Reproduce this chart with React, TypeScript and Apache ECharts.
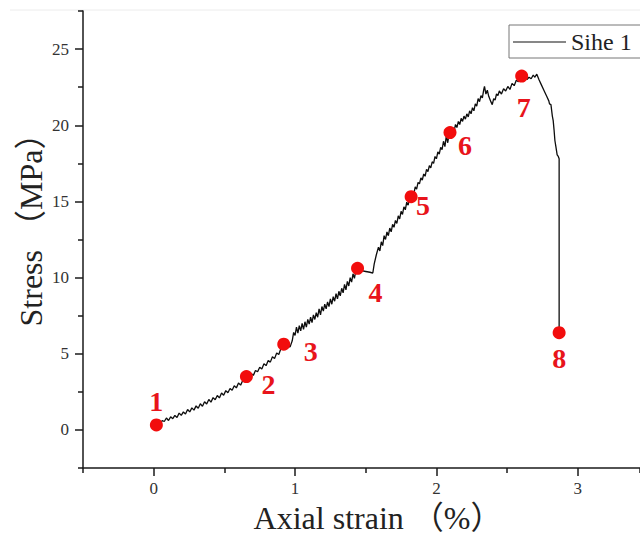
import React, { useEffect, useRef } from "react";
import * as echarts from "echarts";

// Stress-strain curve (Sihe 1)
const strain: number[] = [
  0.030, 0.040, 0.050, 0.060, 0.075, 0.090, 0.105, 0.120, 0.135, 0.150,
  0.165, 0.180, 0.195, 0.210, 0.225, 0.240, 0.255, 0.270, 0.285, 0.300,
  0.315, 0.330, 0.345, 0.360, 0.375, 0.390, 0.405, 0.420, 0.435, 0.450,
  0.465, 0.480, 0.495, 0.510, 0.525, 0.540, 0.555, 0.570, 0.585, 0.600,
  0.615, 0.630, 0.645, 0.660, 0.675, 0.690, 0.705, 0.720, 0.735, 0.750,
  0.765, 0.780, 0.795, 0.810, 0.825, 0.840, 0.855, 0.870, 0.885, 0.900,
  0.915, 0.925, 0.940, 0.965, 0.980, 0.990, 1.000,
  1.010, 1.020, 1.030, 1.040, 1.050, 1.060, 1.070, 1.080, 1.090, 1.100,
  1.110, 1.120, 1.130, 1.140, 1.150, 1.160, 1.170, 1.180, 1.190, 1.200,
  1.210, 1.220, 1.230, 1.240, 1.250, 1.260, 1.270, 1.280, 1.290, 1.300,
  1.310, 1.320, 1.330, 1.340, 1.350, 1.360, 1.370, 1.380, 1.390, 1.400,
  1.410, 1.420, 1.430, 1.440, 1.470, 1.500, 1.530, 1.550, 1.560, 1.575,
  1.590, 1.600, 1.610, 1.620, 1.630, 1.640, 1.650, 1.660, 1.670, 1.680,
  1.690, 1.700, 1.710, 1.720, 1.730, 1.740, 1.750, 1.760, 1.770, 1.780,
  1.790, 1.800, 1.810, 1.820, 1.830, 1.840, 1.850, 1.860, 1.870, 1.880,
  1.890, 1.900, 1.910, 1.920, 1.930, 1.940, 1.950, 1.960, 1.970, 1.980,
  1.990, 2.000, 2.010, 2.020, 2.030, 2.040, 2.050, 2.060, 2.070, 2.080,
  2.090, 2.100, 2.115, 2.125, 2.135, 2.145, 2.155, 2.165, 2.175, 2.185,
  2.195, 2.205, 2.215, 2.225, 2.235, 2.245, 2.255, 2.265, 2.275, 2.285,
  2.295, 2.305, 2.315, 2.325, 2.335, 2.340, 2.350, 2.360, 2.370, 2.385,
  2.395, 2.405, 2.415, 2.425, 2.435, 2.445, 2.460, 2.475, 2.490, 2.505,
  2.520, 2.535, 2.550, 2.565, 2.580, 2.595, 2.610, 2.625, 2.640, 2.655,
  2.670, 2.685, 2.695, 2.710, 2.725, 2.740, 2.760, 2.780, 2.795, 2.800,
  2.810, 2.820, 2.826, 2.832, 2.838, 2.845, 2.854, 2.862, 2.868, 2.868,
];

const stress: number[] = [
  0.40, 0.55, 0.42, 0.62, 0.55, 0.78, 0.62, 0.86, 0.74, 0.95,
  0.82, 1.10, 0.96, 1.18, 1.05, 1.34, 1.18, 1.45, 1.30, 1.58,
  1.42, 1.72, 1.55, 1.85, 1.70, 2.00, 1.82, 2.12, 1.98, 2.26,
  2.10, 2.42, 2.28, 2.58, 2.44, 2.72, 2.60, 2.90, 2.76, 3.08,
  2.94, 3.25, 3.18, 3.48, 3.42, 3.70, 3.58, 3.90, 3.82, 4.12,
  4.00, 4.34, 4.22, 4.56, 4.45, 4.80, 4.68, 5.05, 4.95, 5.35,
  5.30, 5.62, 5.50, 5.45, 5.85, 6.40, 6.20,
  6.75, 6.35, 6.85, 6.50, 7.00, 6.60, 7.10, 6.75, 7.25, 6.95,
  7.40, 7.05, 7.55, 7.25, 7.70, 7.40, 7.95, 7.55, 8.10, 7.80,
  8.25, 7.95, 8.40, 8.10, 8.60, 8.25, 8.75, 8.45, 8.95, 8.60,
  9.10, 8.80, 9.30, 9.00, 9.55, 9.20, 9.75, 9.45, 10.00, 9.70,
  10.25, 9.95, 10.45, 10.60, 10.45, 10.40, 10.35, 10.30, 10.90, 11.50,
  12.00, 11.75, 12.35, 12.10, 12.75, 12.50, 13.00, 12.75, 13.25, 13.00,
  13.50, 13.30, 13.75, 13.55, 14.05, 13.85, 14.35, 14.15, 14.65, 14.45,
  14.95, 14.75, 15.25, 15.20, 15.60, 15.50, 15.95, 15.80, 16.25, 16.15,
  16.55, 16.40, 16.80, 16.65, 17.10, 16.95, 17.35, 17.20, 17.60, 17.50,
  17.95, 17.80, 18.25, 18.10, 18.55, 18.40, 18.95, 18.60, 19.30, 18.85,
  19.45, 19.40, 19.85, 19.60, 20.05, 19.85, 20.25, 20.05, 20.45, 20.25,
  20.60, 20.40, 20.75, 20.55, 20.95, 20.75, 21.15, 20.95, 21.40, 21.25,
  21.75, 21.55, 21.95, 21.80, 22.35, 22.55, 22.05, 22.30, 21.90, 21.55,
  21.35, 21.75, 21.65, 22.05, 21.95, 22.25, 22.05, 22.40, 22.25, 22.55,
  22.35, 22.75, 22.60, 22.95, 22.85, 23.15, 23.05, 23.20, 23.00, 23.15,
  23.05, 23.30, 23.15, 23.35, 23.00, 22.70, 22.30, 21.90, 21.60, 21.40,
  21.35, 20.60, 20.30, 19.70, 19.00, 18.60, 18.05, 17.95, 17.80, 6.40,
];

// Numbered red marker points
const markerStrain: number[] = [0.019, 0.656, 0.92, 1.442, 1.821, 2.096, 2.603, 2.868];
const markerStress: number[] = [0.33, 3.5, 5.63, 10.61, 15.31, 19.52, 23.23, 6.38];
const markerLabels: string[] = ["1", "2", "3", "4", "5", "6", "7", "8"];

const seriesName = "Sihe 1";
const xAxisTitle = "Axial strain （%）";
const yAxisTitle = "Stress （MPa）";

const SERIF = "'Liberation Serif', 'Times New Roman', 'Noto Sans CJK SC', serif";

export default function App() {
  const ref = useRef<HTMLDivElement>(null);

  useEffect(() => {
    if (!ref.current) return;
    const chart = echarts.init(ref.current, null, { renderer: "svg" });

    const axisColor = "#1a1a1a";
    const labelOffsets: number[][] = [
      [0, -23], [22, 8], [27, 7], [18, 24], [12, 9], [15, 13], [2, 31], [0, 26],
    ];

    const curve = strain.map((x, i) => [x, stress[i]]);
    const markers = markerStrain.map((x, i) => ({
      name: markerLabels[i],
      value: [x, markerStress[i]],
      label: { offset: labelOffsets[i] },
    }));

    const tickLabel = { fontFamily: SERIF, fontSize: 17, color: "#333" };

    const option: any = {
      animation: false,
      backgroundColor: "#ffffff",
      grid: {
        left: 83,
        top: 11,
        right: 0,
        bottom: 67,
        containLabel: false,
        outerBoundsMode: "none",
      },
      xAxis: [
        {
          type: "value",
          min: -0.5,
          max: 3.44,
          position: "bottom",
          axisLine: { show: true, onZero: false, lineStyle: { color: axisColor, width: 1.5 } },
          axisTick: { show: true, length: 8, lineStyle: { color: axisColor, width: 1.5 } },
          axisLabel: { showMinLabel: false, showMaxLabel: false, margin: 12, ...tickLabel },
          splitLine: { show: false },
        },
        {
          type: "value",
          min: -0.5,
          max: 3.44,
          interval: 1,
          position: "bottom",
          axisLine: { show: false, onZero: false },
          axisTick: { show: true, length: 5, lineStyle: { color: axisColor, width: 1.5 } },
          axisLabel: { show: false },
          splitLine: { show: false },
        },
      ],
      yAxis: [
        {
          type: "value",
          min: -2.5,
          max: 27.5,
          position: "left",
          axisLine: { show: true, onZero: false, lineStyle: { color: axisColor, width: 1.5 } },
          axisTick: { show: true, length: 8, lineStyle: { color: axisColor, width: 1.5 } },
          axisLabel: { showMinLabel: false, showMaxLabel: false, margin: 14, ...tickLabel },
          splitLine: { show: false },
        },
        {
          type: "value",
          min: -2.5,
          max: 27.5,
          interval: 5,
          position: "left",
          axisLine: { show: false, onZero: false },
          axisTick: { show: true, length: 5, lineStyle: { color: axisColor, width: 1.5 } },
          axisLabel: { show: false },
          splitLine: { show: false },
        },
      ],
      series: [
        {
          name: seriesName,
          type: "line",
          xAxisIndex: 0,
          yAxisIndex: 0,
          data: curve,
          showSymbol: false,
          symbol: "none",
          lineStyle: { color: "#0d0d0d", width: 1.3 },
          z: 2,
        },
        {
          type: "scatter",
          xAxisIndex: 0,
          yAxisIndex: 0,
          data: markers,
          symbolSize: 13,
          itemStyle: { color: "#f20d0d", opacity: 1 },
          label: {
            show: true,
            position: "inside",
            formatter: "{b}",
            fontFamily: SERIF,
            fontWeight: "bold",
            fontSize: 28,
            color: "#e8141b",
          },
          z: 3,
        },
      ],
      graphic: [
        {
          type: "line",
          shape: { x1: 10, y1: 10, x2: 640, y2: 10 },
          style: { stroke: "#ececec", lineWidth: 1 },
          silent: true,
        },
        {
          type: "group",
          children: [
            {
              type: "rect",
              shape: { x: 509, y: 25, width: 140, height: 33 },
              style: { fill: "#ffffff", stroke: "#777777", lineWidth: 1 },
            },
            {
              type: "line",
              shape: { x1: 513, y1: 42, x2: 566, y2: 42 },
              style: { stroke: "#111111", lineWidth: 1.2 },
            },
            {
              type: "text",
              x: 571,
              y: 42,
              style: {
                text: seriesName,
                fontFamily: SERIF,
                fontSize: 24,
                fill: "#222222",
                align: "left",
                verticalAlign: "middle",
              },
            },
          ],
        },
        {
          type: "text",
          x: 31,
          y: 222,
          rotation: Math.PI / 2,
          style: {
            text: yAxisTitle,
            fontFamily: SERIF,
            fontSize: 32,
            fill: "#222222",
            align: "center",
            verticalAlign: "middle",
          },
        },
        {
          type: "text",
          x: 378,
          y: 518,
          style: {
            text: xAxisTitle,
            fontFamily: SERIF,
            fontSize: 32,
            fill: "#222222",
            align: "center",
            verticalAlign: "middle",
          },
        },
      ],
    };

    chart.setOption(option);
    return () => chart.dispose();
  }, []);

  return (
    <div
      ref={ref}
      style={{ position: "absolute", left: 0, top: 0, width: 640, height: 535, background: "#fff" }}
    />
  );
}
